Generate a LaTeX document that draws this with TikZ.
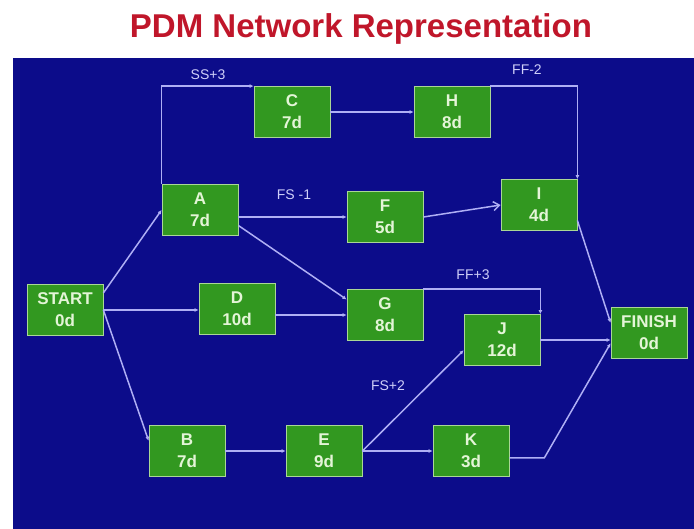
\documentclass[tikz,border=0pt]{standalone}
\usepackage{fontspec}
\setmainfont{Liberation Sans}
\usetikzlibrary{arrows.meta}

\definecolor{slideblue}{RGB}{12,12,138}
\definecolor{taskgreen}{RGB}{50,152,32}
\definecolor{taskline}{RGB}{170,215,150}
\definecolor{tasktext}{RGB}{228,245,215}
\definecolor{linkcol}{RGB}{175,175,245}
\definecolor{titlered}{RGB}{192,22,42}

\begin{document}
\begin{tikzpicture}[x=1pt,
            y=-1pt,
            task/.style={draw=taskline, fill=taskgreen, text=tasktext,
                         font=\bfseries\fontsize{17}{22}\selectfont, align=center,
                         minimum width=76pt, minimum height=51pt, inner sep=0pt,
                         line width=0.8pt},
            link/.style={draw=linkcol, line width=1.5pt,
                         -{Latex[length=4pt,width=4pt]}},
            lag/.style={text=linkcol!60!white, font=\fontsize{14}{16}\selectfont}]

        \useasboundingbox (0,0) rectangle (694,529);
        \fill[white] (0,0) rectangle (694,529);
        \fill[slideblue] (13,58) rectangle (694,529);

        \node[text=titlered, font=\bfseries\fontsize{33}{38}\selectfont, anchor=base]
            (title) at (361,38) {PDM Network Representation};

        \node[task] (start)  at (65,310)  {START\\0d};
        \node[task] (A)      at (200,210) {A\\7d};
        \node[task] (C)      at (292,112) {C\\7d};
        \node[task] (H)      at (452,112) {H\\8d};
        \node[task] (F)      at (385,217) {F\\5d};
        \node[task] (I)      at (539,205) {I\\4d};
        \node[task] (D)      at (237,309) {D\\10d};
        \node[task] (G)      at (385,315) {G\\8d};
        \node[task] (J)      at (502,340) {J\\12d};
        \node[task] (B)      at (187,451) {B\\7d};
        \node[task] (E)      at (324,451) {E\\9d};
        \node[task] (K)      at (471,451) {K\\3d};
        \node[task] (finish) at (649,333) {FINISH\\0d};

        \node[lag] (ss3) at (208,75)  {SS+3};
        \node[lag] (fs1) at (294,195) {FS -1};
        \node[lag] (ff2) at (527,70)  {FF-2};
        \node[lag] (ff3) at (473,275) {FF+3};
        \node[lag] (fs2) at (388,386) {FS+2};

        \draw[link] (start.24) -- (A.west);
        \draw[link] (start.east) -- (start.east -| D.west);
        \draw[link] (start.east) -- (B.165);
        \draw[link] (A.north west) |- (C.north west);
        \draw[link] (C.east) -- (H.west);
        \draw[link] (H.north east) -| (I.north east);
        \draw[link] (F.west -| A.east) -- (F.west);
        \draw[link] (A.-22) -- (G.158);
        \draw[link] (G.west -| D.east) -- (G.west);
        \draw[draw=linkcol, line width=1.5pt, -{Straight Barb[length=6pt,width=9pt]}]
            (F.east) -- (I.west);
        \draw[link] (G.north east) -| (J.north east);
        \draw[link] (E.east) -- (J.195);
        \draw[link] (B.east) -- (E.west);
        \draw[link] (E.east) -- (K.west);
        \draw[link] (I.-22) -- (finish.165);
        \draw[link] (J.east) -- (J.east -| finish.west);
        \draw[link] (K.-10) -- ++(35,0) -- (finish.195);

    \end{tikzpicture}
\end{document}
